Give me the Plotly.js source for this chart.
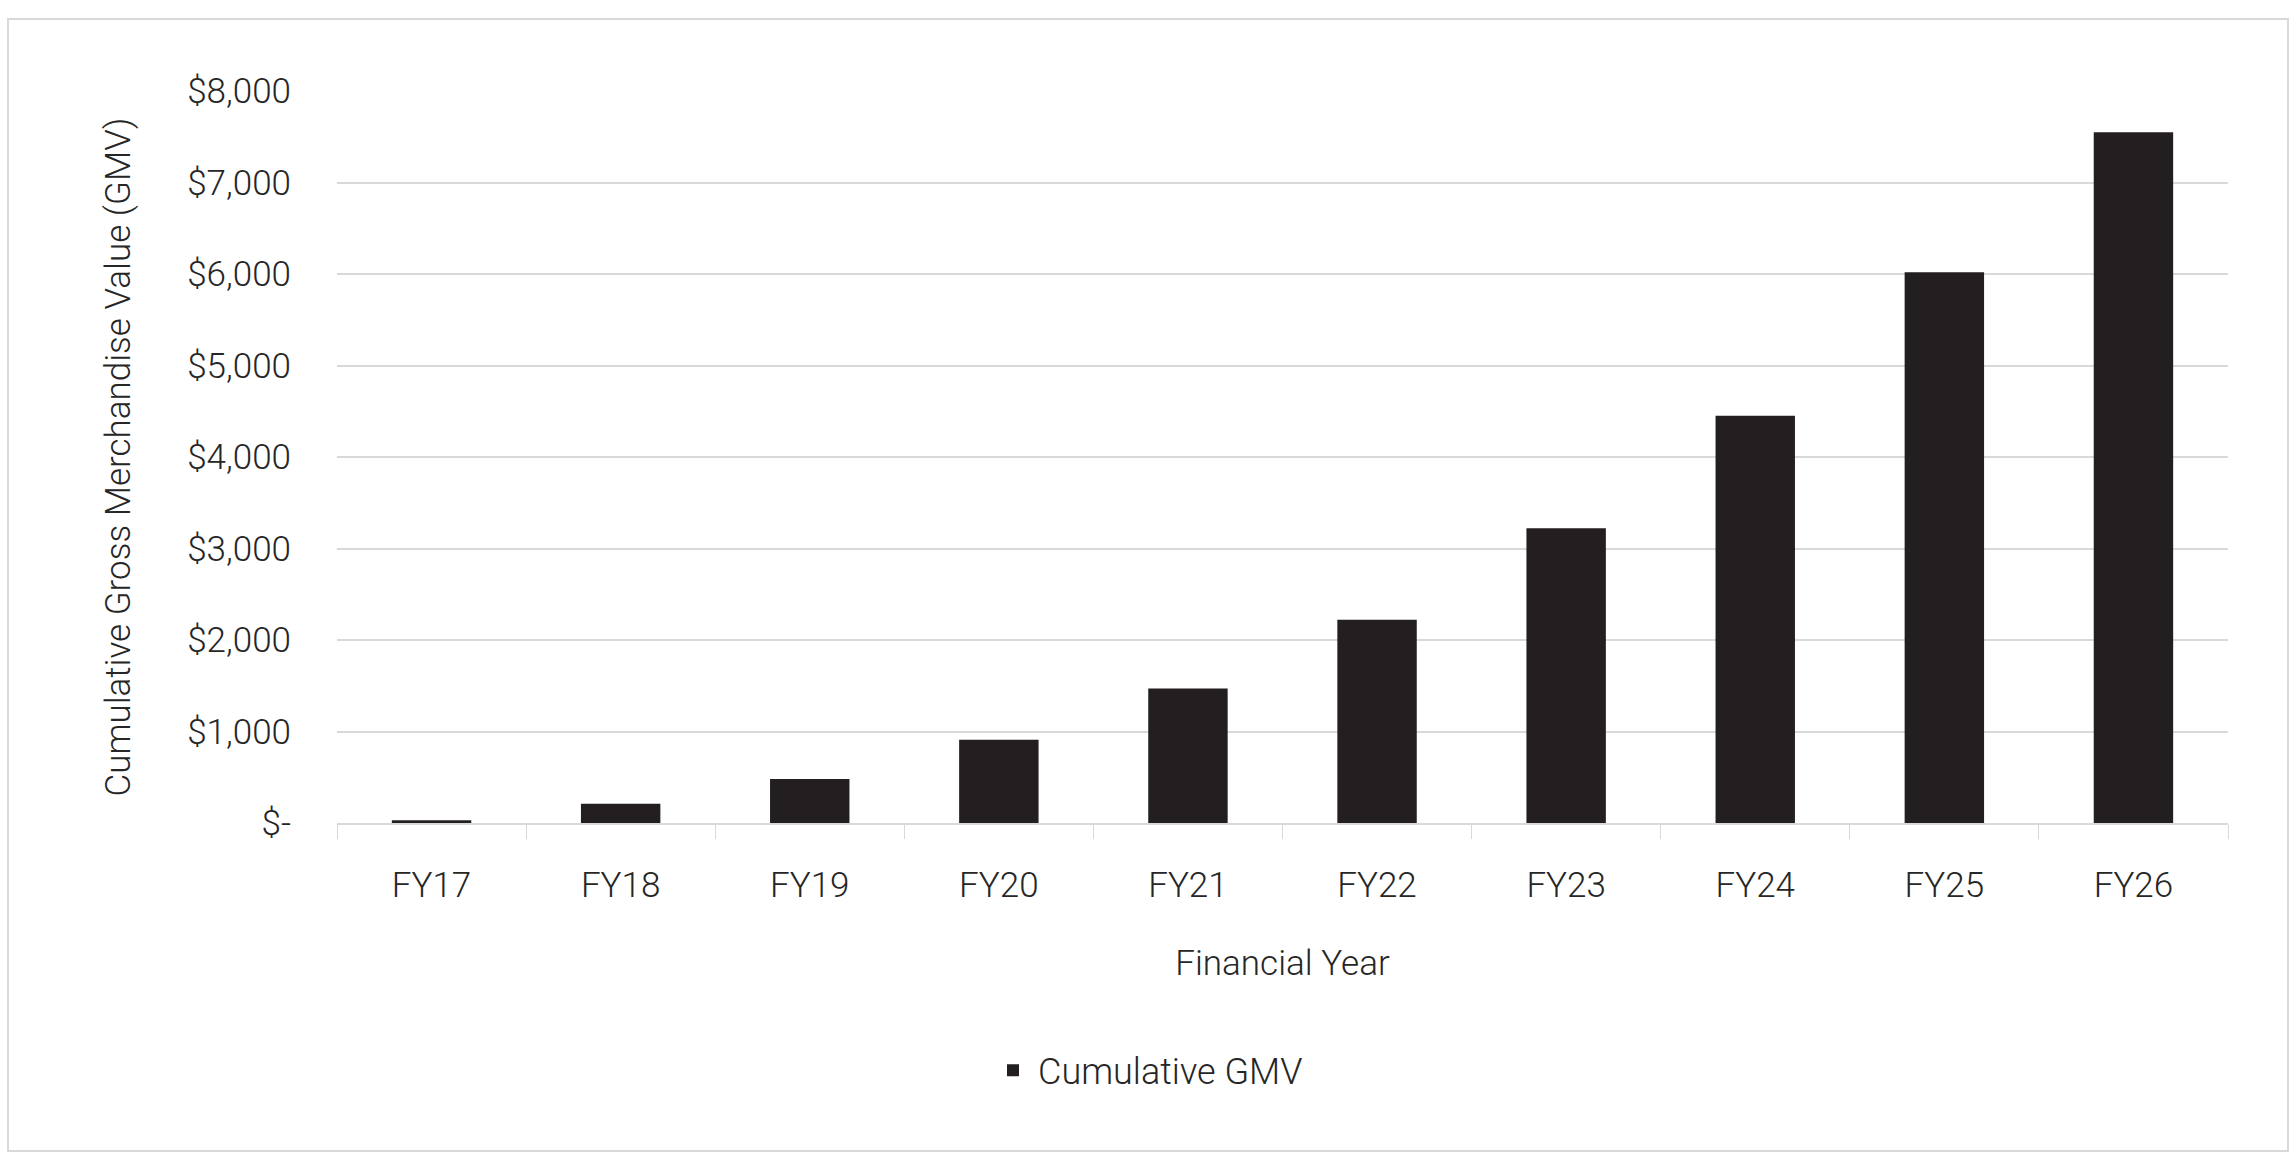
<!DOCTYPE html>
<html>
<head>
<meta charset="utf-8">
<script src="https://cdn.plot.ly/plotly-3.0.1.min.js"></script>
<style>
body { margin: 0; background: #fff; }
#chart { position: absolute; left: 0; top: 0; width: 2296px; height: 1157px; }
#frame { position: absolute; left: 7px; top: 18px; width: 2278px; height: 1130px; border: 2px solid #d9d9d9; pointer-events: none; }
</style>
</head>
<body>
<div id="chart"></div>
<div id="frame"></div>
<script>
// Dữ liệu
var years = ["FY17", "FY18", "FY19", "FY20", "FY21", "FY22", "FY23", "FY24", "FY25", "FY26"];
var gmv = [30, 210, 480, 910, 1470, 2220, 3220, 4450, 6020, 7550];
var tickVals = [0, 1000, 2000, 3000, 4000, 5000, 6000, 7000, 8000];
var tickText = ["$-", "$1,000", "$2,000", "$3,000", "$4,000", "$5,000", "$6,000", "$7,000", "$8,000"];

var data = [{
    type: "bar",
    x: years,
    y: gmv,
    name: "Cumulative GMV",
    marker: { color: "#231f20" }
}];

var layout = {
    width: 2296,
    height: 1157,
    margin: { l: 337, r: 68, t: 91, b: 334, autoexpand: false },
    paper_bgcolor: "#ffffff",
    plot_bgcolor: "#ffffff",
    font: { family: "Roboto", color: "#262626", size: 34, weight: 300 },
    bargap: 0.58,
    showlegend: true,
    legend: {
        orientation: "h",
        xref: "container", yref: "container",
        x: 0.5, xanchor: "center",
        y: 0.075, yanchor: "middle",
        itemwidth: 40,
        font: { size: 36, weight: 300 }
    },
    xaxis: {
        type: "category",
        showline: true,
        linecolor: "#d9d9d9",
        linewidth: 2,
        ticks: "outside",
        tickson: "boundaries",
        ticklen: 14,
        tickcolor: "#d9d9d9",
        ticklabelstandoff: 30,
        tickfont: { size: 35, weight: 300 },
        title: { text: "Financial Year", font: { size: 35, weight: 300 }, standoff: 45 }
    },
    yaxis: {
        range: [0, 8000],
        tickvals: tickVals,
        ticktext: tickText,
        gridcolor: "#d9d9d9",
        gridwidth: 1.5,
        zeroline: false,
        ticks: "",
        ticklabelstandoff: 45,
        tickfont: { size: 35, weight: 300 },
        title: { text: "Cumulative Gross Merchandise Value (GMV)", font: { size: 35, weight: 300 }, standoff: 45 }
    }
};

Plotly.newPlot("chart", data, layout, { displayModeBar: false });
</script>
</body>
</html>
